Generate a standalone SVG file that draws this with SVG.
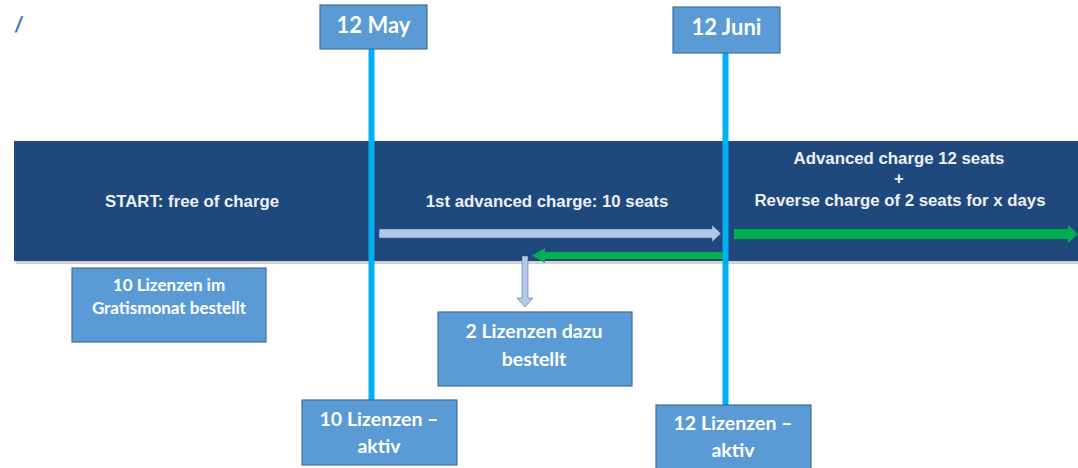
<svg xmlns="http://www.w3.org/2000/svg" width="1078" height="468" viewBox="0 0 1078 468">
<style>
.box{fill:#5B9BD5;stroke:#41719C;stroke-width:1.2}
.bt{font-family:Lato,"Open Sans","Liberation Sans",sans-serif;font-weight:bold;fill:#FFFFFF;text-anchor:middle}
.band-t{font-family:"Liberation Sans",Arial,sans-serif;font-weight:bold;font-size:16.8px;fill:#EEF1F6;text-anchor:middle}
.vline{stroke:#00B0F0;stroke-width:6}
.green{fill:#00B050}
.light{fill:#B4C7E7;stroke:#2F5597;stroke-width:0.8;stroke-opacity:0.6}
</style>
<g id="slash"><text x="19" y="32" font-family="Lato,'Liberation Sans',sans-serif" font-size="21" font-weight="bold" fill="#2E75B6" text-anchor="middle">/</text></g>
<g id="band">
<rect x="16" y="143" width="1064" height="121" fill="#BFBFBF" opacity="0.7"/>
<rect x="14" y="141" width="1064" height="120" fill="#1F497D"/>
<text class="band-t" x="192" y="207">START: free of charge</text>
<text class="band-t" x="547" y="207">1st advanced charge: 10 seats</text>
<text class="band-t" x="899" y="164">Advanced charge 12 seats</text>
<text class="band-t" x="899" y="184">+</text>
<text class="band-t" x="900" y="206">Reverse charge of 2 seats for x days</text>
</g>
<g id="connectors">
<polygon class="light" points="379,229 712,229 712,225 721,233.5 712,242 712,238 379,238"/>
<polygon class="green" points="734,229 1068,229 1068,225 1078,234 1068,243 1068,239 734,239"/>
<polygon class="green" points="724,252 545,252 545,248 532,255.5 545,263 545,259 724,259"/>
<polygon class="light" points="522,256 528,256 528,298 533,298 525,307 517,298 522,298"/>
<line class="vline" x1="371.5" y1="48" x2="371.5" y2="400"/>
<line class="vline" x1="725.5" y1="53" x2="725.5" y2="405"/>
</g>
<g id="may">
<rect class="box" x="320" y="5" width="107" height="44"/>
<text class="bt" x="373.5" y="33" font-size="22">12 May</text>
</g>
<g id="juni">
<rect class="box" x="673" y="7" width="107" height="46"/>
<text class="bt" x="726.5" y="35" font-size="22">12 Juni</text>
</g>
<g id="gratis">
<rect class="box" x="72" y="268" width="194" height="74"/>
<text class="bt" x="169" y="291" font-size="17">10 Lizenzen im</text>
<text class="bt" x="169" y="314" font-size="17">Gratismonat bestellt</text>
</g>
<g id="dazu">
<rect class="box" x="438" y="312" width="194" height="74"/>
<text class="bt" x="534" y="338" font-size="19.5">2 Lizenzen dazu</text>
<text class="bt" x="534" y="366" font-size="19.5">bestellt</text>
</g>
<g id="aktiv10">
<rect class="box" x="302" y="400" width="155" height="65"/>
<text class="bt" x="379" y="426" font-size="19.5">10 Lizenzen –</text>
<text class="bt" x="379" y="453" font-size="19.5">aktiv</text>
</g>
<g id="aktiv12">
<rect class="box" x="656" y="405" width="155" height="70"/>
<text class="bt" x="733" y="430" font-size="19.5">12 Lizenzen –</text>
<text class="bt" x="733" y="457" font-size="19.5">aktiv</text>
</g>
</svg>
